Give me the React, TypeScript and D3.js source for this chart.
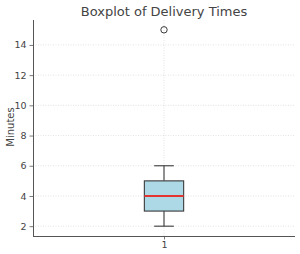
import React from 'react';
import * as d3 from 'd3';

// Data
const categories = ['1'];
const whiskerLow = [2];
const q1 = [3];
const median = [4];
const q3 = [5];
const whiskerHigh = [6];
const outliers = [[15]];
const yTicks = [2, 4, 6, 8, 10, 12, 14];

const width = 300;
const height = 254;
const margin = { top: 20, right: 5, bottom: 18, left: 33 };

function App() {
    const ref = React.useRef<SVGSVGElement>(null);

    React.useEffect(() => {
        const svg = d3.select(ref.current);
        svg.selectAll('*').remove();

        const innerW = width - margin.left - margin.right;
        const innerH = height - margin.top - margin.bottom;

        const x = d3.scaleLinear().domain([0.5, 1.5]).range([margin.left, margin.left + innerW]);
        const y = d3.scaleLinear().domain([1.35, 15.65]).range([margin.top + innerH, margin.top]);

        const g = svg.append('g').attr('font-family', 'DejaVu Sans, sans-serif');

        // grid
        g.append('g')
            .selectAll('line')
            .data(yTicks)
            .join('line')
            .attr('x1', margin.left)
            .attr('x2', margin.left + innerW)
            .attr('y1', (d) => y(d))
            .attr('y2', (d) => y(d))
            .attr('stroke', '#d0d0d0')
            .attr('stroke-width', 0.6)
            .attr('stroke-dasharray', '1,1.5');
        g.append('g')
            .selectAll('line')
            .data(categories)
            .join('line')
            .attr('x1', (_, i) => x(i + 1))
            .attr('x2', (_, i) => x(i + 1))
            .attr('y1', margin.top)
            .attr('y2', margin.top + innerH)
            .attr('stroke', '#d0d0d0')
            .attr('stroke-width', 0.6)
            .attr('stroke-dasharray', '1,1.5');

        // boxes
        const boxW = 0.15;
        categories.forEach((_, i) => {
            const cx = i + 1;
            const line = (x1: number, y1: number, x2: number, y2: number) =>
                g.append('line')
                    .attr('x1', x(x1)).attr('x2', x(x2))
                    .attr('y1', y(y1)).attr('y2', y(y2))
                    .attr('stroke', '#3a3a3a').attr('stroke-width', 1.1);
            line(cx, whiskerLow[i], cx, q1[i]);
            line(cx, q3[i], cx, whiskerHigh[i]);
            line(cx - boxW / 4, whiskerLow[i], cx + boxW / 4, whiskerLow[i]);
            line(cx - boxW / 4, whiskerHigh[i], cx + boxW / 4, whiskerHigh[i]);
            g.append('rect')
                .attr('x', x(cx - boxW / 2))
                .attr('y', y(q3[i]))
                .attr('width', x(cx + boxW / 2) - x(cx - boxW / 2))
                .attr('height', y(q1[i]) - y(q3[i]))
                .attr('fill', '#add8e6')
                .attr('stroke', '#3a3a3a')
                .attr('stroke-width', 1.1);
            g.append('line')
                .attr('x1', x(cx - boxW / 2)).attr('x2', x(cx + boxW / 2))
                .attr('y1', y(median[i])).attr('y2', y(median[i]))
                .attr('stroke', '#e3342f').attr('stroke-width', 2);
            g.append('g').selectAll('circle')
                .data(outliers[i])
                .join('circle')
                .attr('cx', x(cx))
                .attr('cy', (d) => y(d))
                .attr('r', 3.2)
                .attr('fill', 'none')
                .attr('stroke', '#3a3a3a')
                .attr('stroke-width', 1);
        });

        // axes
        const yAxis = d3.axisLeft(y).tickValues(yTicks).tickSize(3.5).tickPadding(3);
        const yG = g.append('g').attr('transform', `translate(${margin.left},0)`).call(yAxis);
        const xAxis = d3.axisBottom(x).tickValues([1]).tickFormat((_, i) => categories[i]).tickSize(3.5).tickPadding(2);
        const xG = g.append('g').attr('transform', `translate(0,${margin.top + innerH})`).call(xAxis);
        [yG, xG].forEach((a) => {
            a.select('.domain').attr('stroke', '#555').attr('stroke-width', 1);
            a.selectAll('.tick line').attr('stroke', '#555').attr('stroke-width', 0.8);
            a.selectAll('.tick text').attr('fill', '#444').attr('font-size', 9.5).attr('font-family', 'DejaVu Sans, sans-serif');
        });
        yG.select('.domain').attr('d', `M0.5,${margin.top}V${margin.top + innerH}`);
        xG.select('.domain').attr('d', `M${margin.left},0.5H${margin.left + innerW}`);

        g.append('text')
            .attr('x', margin.left + innerW / 2)
            .attr('y', 16)
            .attr('text-anchor', 'middle')
            .attr('font-size', 13)
            .attr('fill', '#444')
            .text('Boxplot of Delivery Times');

        g.append('text')
            .attr('transform', `translate(14,${margin.top + innerH / 2 - 1}) rotate(-90)`)
            .attr('text-anchor', 'middle')
            .attr('font-size', 10)
            .attr('fill', '#444')
            .text('Minutes');
    }, []);

    return (
        <svg ref={ref} width={width} height={height} style={{ position: 'absolute', left: 0, top: 0, background: '#fff' }} />
    );
}

export default App;
